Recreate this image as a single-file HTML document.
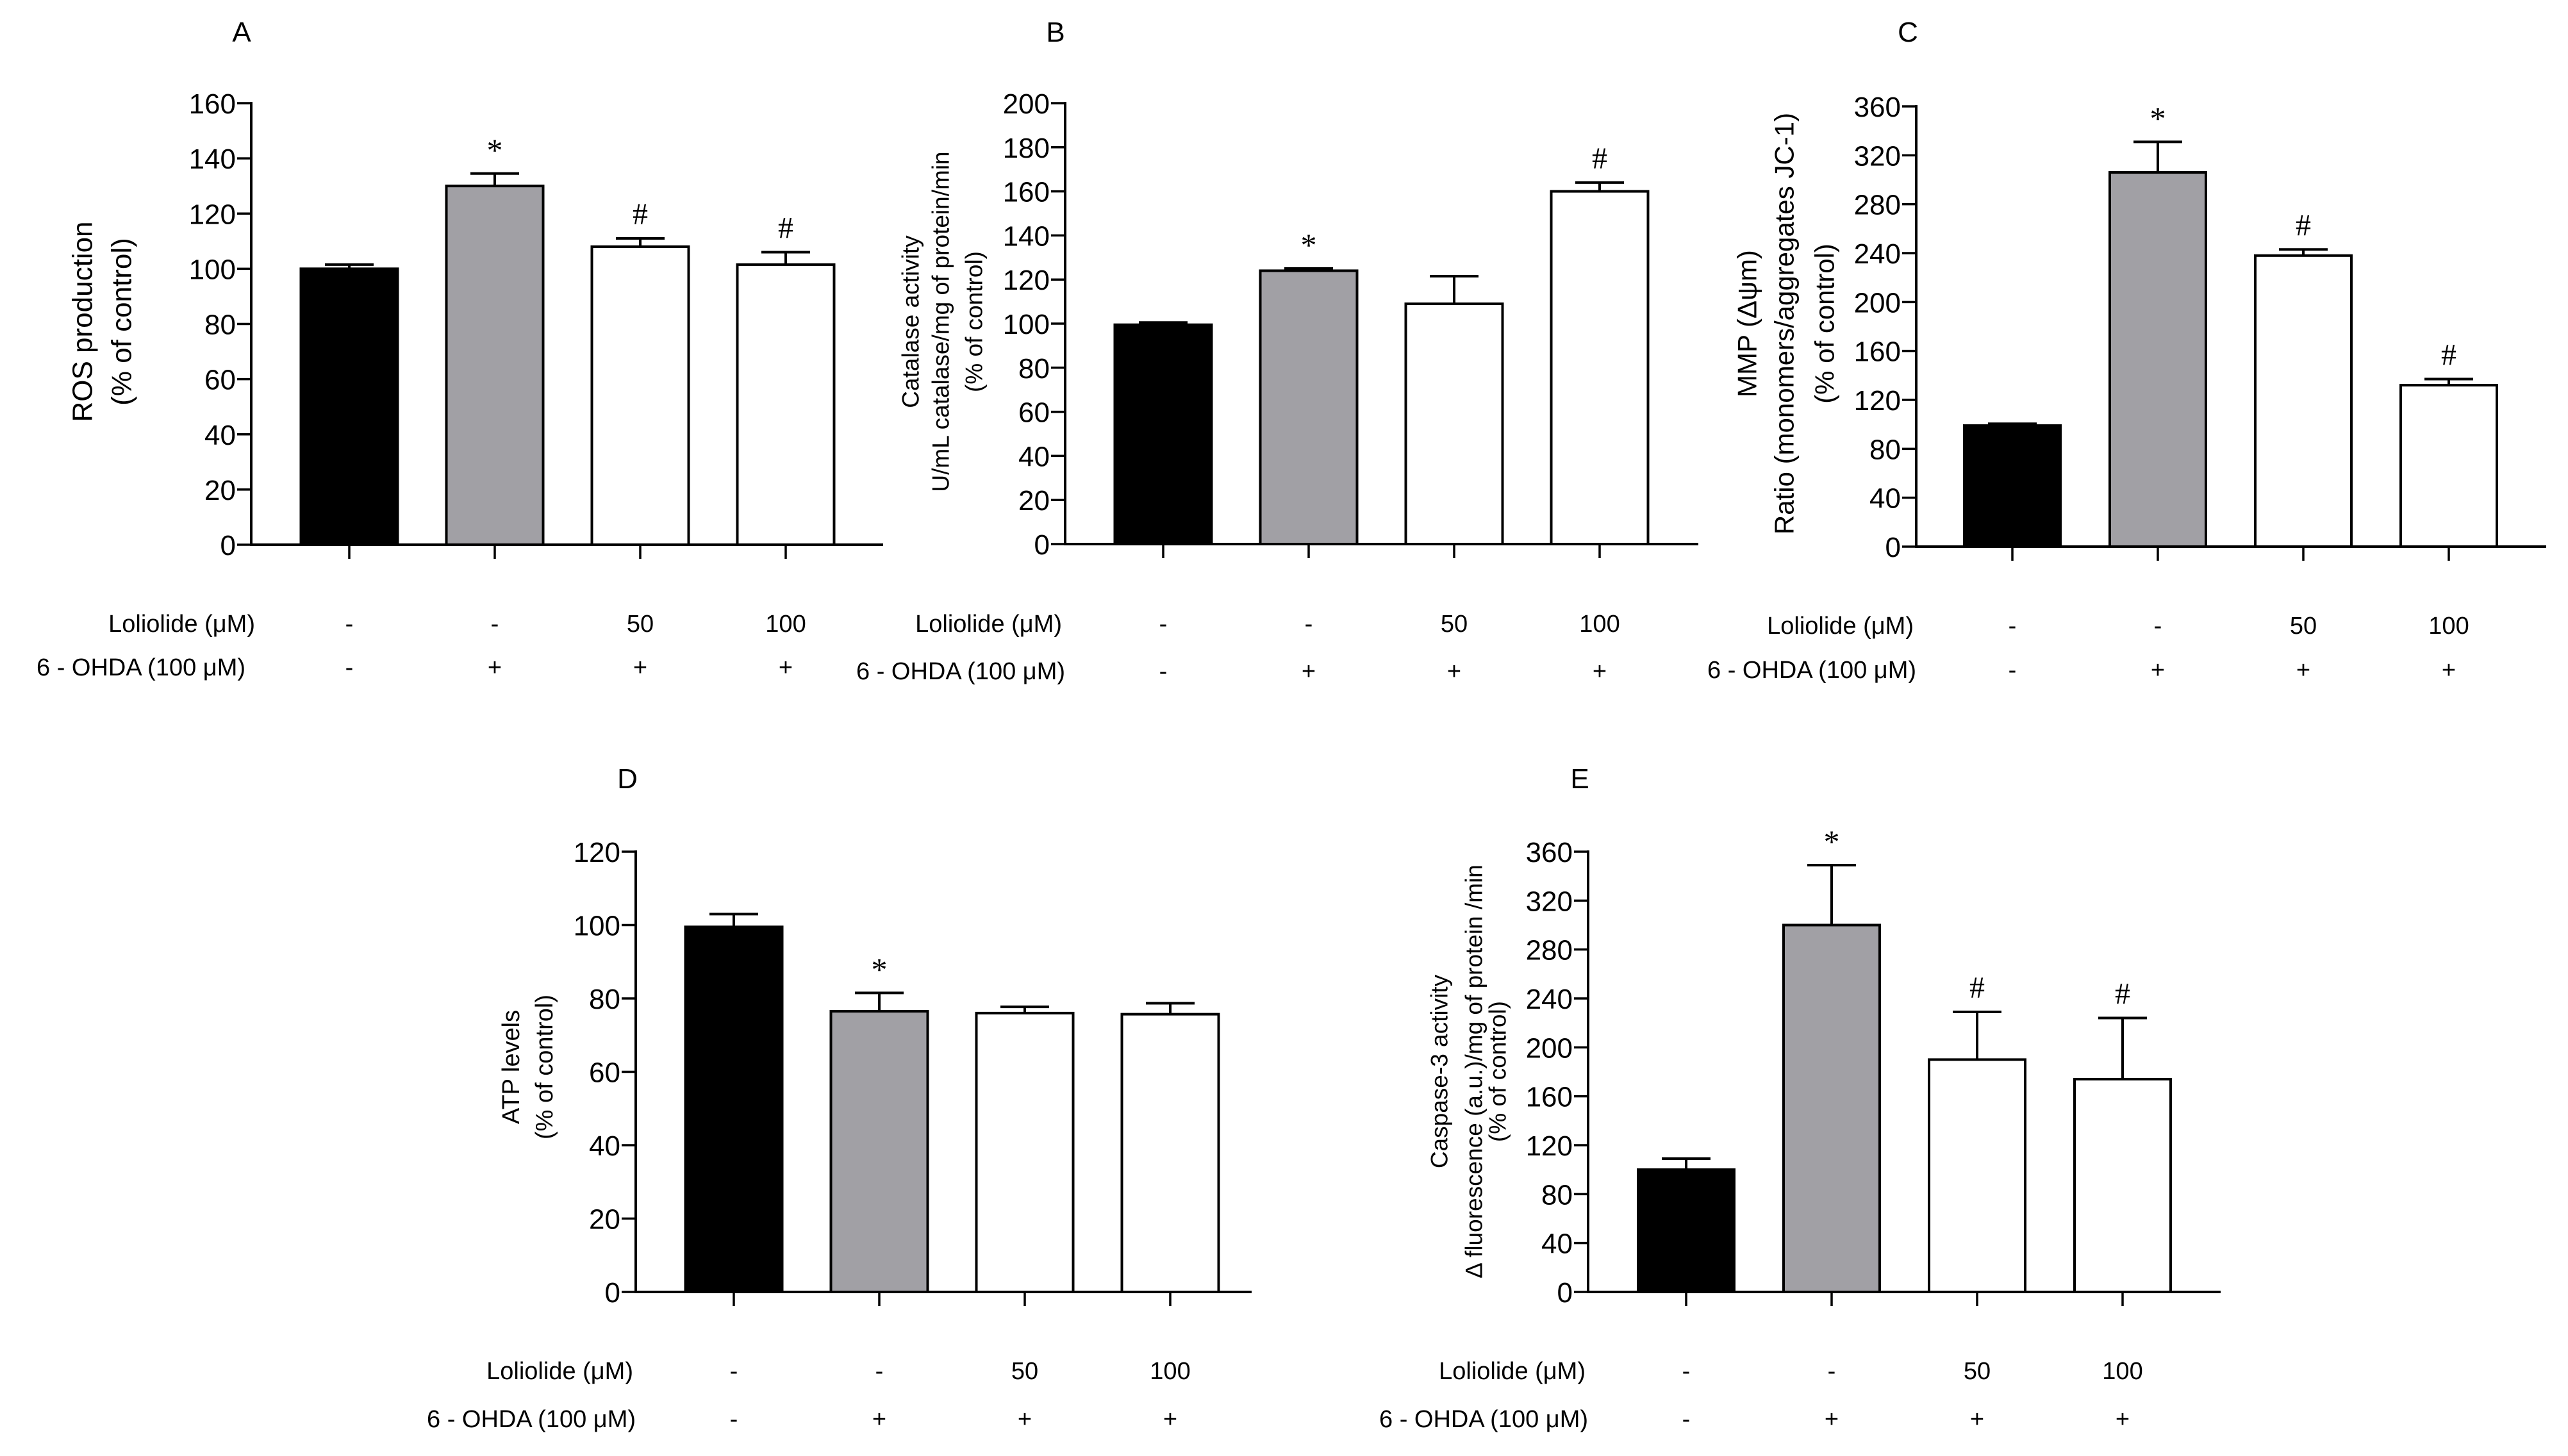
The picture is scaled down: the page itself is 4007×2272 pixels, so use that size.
<!DOCTYPE html>
<html><head><meta charset="utf-8"><style>
html,body{margin:0;padding:0;background:#fff;}
svg{display:block;}
text{font-family:"Liberation Sans",sans-serif;fill:#000;}
.sym{font-family:"Liberation Serif",serif;}
</style></head><body>
<svg id="fig" xmlns="http://www.w3.org/2000/svg" width="4007" height="2272" viewBox="0 0 4007 2272"></svg>
<script>
// ---- data ----
const rowLoliolide = ["-", "-", "50", "100"];
const rowOhda = ["-", "+", "+", "+"];
const barFills = ["#000000", "#a1a0a5", "#ffffff", "#ffffff"];

const aValues = [100, 130, 108, 101.5];
const aErrors = [1.5, 4.5, 3, 4.5];
const aMarks = ["", "*", "#", "#"];
const aTicks = [0, 20, 40, 60, 80, 100, 120, 140, 160];

const bValues = [99.5, 124, 109, 160];
const bErrors = [1, 1, 12.5, 4];
const bMarks = ["", "*", "", "#"];
const bTicks = [0, 20, 40, 60, 80, 100, 120, 140, 160, 180, 200];

const cValues = [99, 306, 238, 132];
const cErrors = [1.5, 25, 5, 5];
const cMarks = ["", "*", "#", "#"];
const cTicks = [0, 40, 80, 120, 160, 200, 240, 280, 320, 360];

const dValues = [99.5, 76.5, 76, 75.7];
const dErrors = [3.5, 5, 1.7, 3];
const dMarks = ["", "*", "", ""];
const dTicks = [0, 20, 40, 60, 80, 100, 120];

const eValues = [100, 300, 190, 174];
const eErrors = [9, 49, 39, 50];
const eMarks = ["", "*", "#", "#"];
const eTicks = [0, 40, 80, 120, 160, 200, 240, 280, 320, 360];

// ---- layout ----
const panels = [
 {id:"a", letter:"A", lx:377, ly:49, ax:392, y0:850, yTop:161, ymax:160, xEnd:1378, firstCenter:545, step:227, bw:151,
  values:aValues, errors:aErrors, marks:aMarks, ticks:aTicks,
  titles:["ROS production","(% of control)"], tx:[129,190], tcy:502, tfs:44,
  rowRight:[398,383], rowY:[972,1040]},
 {id:"b", letter:"B", lx:1647, ly:49, ax:1662, y0:849, yTop:161, ymax:200, xEnd:2650, firstCenter:1815, step:227, bw:151,
  values:bValues, errors:bErrors, marks:bMarks, ticks:bTicks,
  titles:["Catalase activity","U/mL catalase/mg of protein/min","(% of control)"], tx:[1421,1468,1520], tcy:502, tfs:37,
  rowRight:[1657,1662], rowY:[972,1046]},
 {id:"c", letter:"C", lx:2977, ly:49, ax:2990, y0:853, yTop:166, ymax:360, xEnd:3973, firstCenter:3140, step:227, bw:150,
  values:cValues, errors:cErrors, marks:cMarks, ticks:cTicks,
  titles:["MMP (\u0394\u03c8m)","Ratio (monomers/aggregates  JC-1)","(% of control)"], tx:[2726,2784,2847], tcy:505, tfs:42,
  rowRight:[2986,2990], rowY:[975,1044]},
 {id:"d", letter:"D", lx:979, ly:1214, ax:992, y0:2016, yTop:1329, ymax:120, xEnd:1953, firstCenter:1145, step:227, bw:151,
  values:dValues, errors:dErrors, marks:dMarks, ticks:dTicks,
  titles:["ATP levels","(% of control)"], tx:[798,850], tcy:1665, tfs:38,
  rowRight:[988,992], rowY:[2138,2213]},
 {id:"e", letter:"E", lx:2465, ly:1214, ax:2478, y0:2016, yTop:1329, ymax:360, xEnd:3465, firstCenter:2631, step:227, bw:150,
  values:eValues, errors:eErrors, marks:eMarks, ticks:eTicks,
  titles:["Caspase-3 activity","\u0394 fluorescence (a.u.)/mg of protein /min","(% of control)"], tx:[2246,2300,2337], tcy:1672, tfs:37,
  rowRight:[2474,2478], rowY:[2138,2213]}
];

const NS = "http://www.w3.org/2000/svg";
const svg = document.getElementById("fig");
function mk(tag, attrs, parent){
  const el = document.createElementNS(NS, tag);
  for (const k in attrs) el.setAttribute(k, attrs[k]);
  parent.appendChild(el);
  return el;
}

panels.forEach(p => {
  const g = mk("g", {}, svg);
  
  
  const yScale = v => p.y0 - (v / p.ymax) * (p.y0 - p.yTop);
  const xCenter = i => p.firstCenter + i * p.step;

  const lt = mk("text", {x:p.lx, y:p.ly+16, "font-size":44, "text-anchor":"middle"}, g);
  lt.textContent = p.letter;
  
  

  // y axis
  const ya = mk("line", {x1:p.ax, y1:p.yTop-2, x2:p.ax, y2:p.y0+2, stroke:"#000", "stroke-width":4}, g);
  
  
  p.ticks.forEach(t => {
    const y = yScale(t);
    const tk = mk("line", {x1:p.ax-22, y1:y, x2:p.ax, y2:y, stroke:"#000", "stroke-width":3.5}, g);
    
    
    const tl = mk("text", {x:p.ax-24, y:y+16, "font-size":44, "text-anchor":"end"}, g);
    tl.textContent = t;
    
    
  });
  // x axis
  const xa = mk("line", {x1:p.ax-2, y1:p.y0, x2:p.xEnd, y2:p.y0, stroke:"#000", "stroke-width":4}, g);
  
  

  // y title
  const tg = mk("g", {}, g);
  
  
  p.titles.forEach((s, k) => {
    const x = p.tx[k];
    const t = mk("text", {x:x, y:p.tcy, "font-size":p.tfs, "text-anchor":"middle", "dominant-baseline":"central",
      transform:"rotate(-90 " + x + " " + p.tcy + ")"}, tg);
    t.textContent = s;
  });

  // bars
  p.values.forEach((v, i) => {
    const cx = xCenter(i);
    const top = yScale(v);
    const b = mk("rect", {x:cx - p.bw/2, y:top, width:p.bw, height:p.y0 - top, fill:barFills[i], stroke:"#000", "stroke-width":4}, g);
    
    
    const et = yScale(v + p.errors[i]);
    const e1 = mk("line", {x1:cx, y1:top, x2:cx, y2:et, stroke:"#000", "stroke-width":4}, g);
    
    
    const e2 = mk("line", {x1:cx-38, y1:et, x2:cx+38, y2:et, stroke:"#000", "stroke-width":4}, g);
    
    
    if (p.marks[i]) {
      const m = mk("text", {x:cx, y:p.marks[i] === "*" ? et - 20 : et - 22, "font-size":p.marks[i] === "*" ? 50 : 48, "text-anchor":"middle", "class":"sym"}, g);
      m.textContent = p.marks[i];
      
      
    }
    const xt = mk("line", {x1:cx, y1:p.y0, x2:cx, y2:p.y0+22, stroke:"#000", "stroke-width":3.5}, g);
    
    
    const r1 = mk("text", {x:cx, y:p.rowY[0]+14, "font-size":38, "text-anchor":"middle"}, g);
    r1.textContent = rowLoliolide[i];
    
    
    const r2 = mk("text", {x:cx, y:p.rowY[1]+14, "font-size":38, "text-anchor":"middle"}, g);
    r2.textContent = rowOhda[i];
    
    
  });
  const h1 = mk("text", {x:p.rowRight[0], y:p.rowY[0]+14, "font-size":38, "text-anchor":"end"}, g);
  h1.textContent = "Loliolide (\u03bcM)";
  
  
  const h2 = mk("text", {x:p.rowRight[1], y:p.rowY[1]+14, "font-size":38, "text-anchor":"end"}, g);
  h2.textContent = "6 - OHDA (100 \u03bcM)";
  
  
});
</script>
</body></html>
